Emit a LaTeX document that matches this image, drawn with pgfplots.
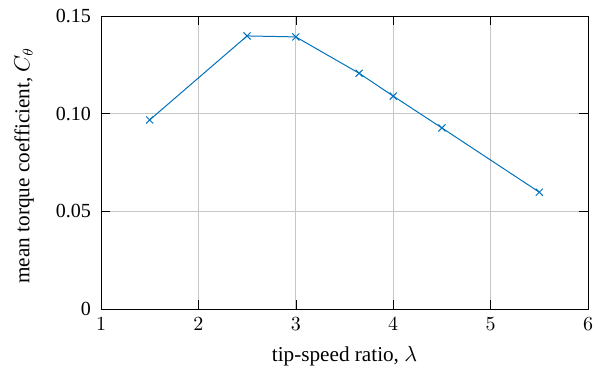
\documentclass[border=0pt]{standalone}
\usepackage{fontspec}
\setmainfont{Liberation Serif}
\usepackage{pgfplots}
\usetikzlibrary{calc}
\pgfplotsset{compat=1.18}
\definecolor{mblue}{rgb}{0,0.447,0.741}
\begin{document}
\begin{tikzpicture}
\begin{axis}[
  name=ax,
  scale only axis,
  width=243.5pt, height=146.5pt,
  xmin=1, xmax=6, ymin=0, ymax=0.15,
  xtick={1,2,3,4,5,6},
  ytick={0,0.05,0.10,0.15},
  yticklabels={0,0.05,0.10,0.15},
  xticklabel style={yshift=-1pt},
  yticklabel style={xshift=-1.5pt},
  grid=major,
  major grid style={gray!45, line width=0.4pt},
  tick style={black},
  xlabel={tip-speed ratio, $\lambda$},
  ylabel={mean torque coefficient, $C_\theta$},
  label style={font=\fontsize{10.6}{13}\selectfont},
  xlabel style={at={(axis description cs:0.5,-0.16)}, anchor=center},
  ylabel style={at={(axis description cs:-0.158,0.49)}, anchor=center},
]
\addplot[color=mblue, line width=0.5pt, mark=x, mark size=2.5pt] coordinates {
(1.5,0.0968) (2.5,0.1398) (3.0,0.1393) (3.65,0.1207) (4.0,0.1090) (4.5,0.0927) (5.5,0.0598)
};
\end{axis}
\pgfresetboundingbox
\useasboundingbox ($(ax.south west)+(-50.5pt,-30.5pt)$) rectangle ($(ax.north east)+(10pt,8pt)$);
\end{tikzpicture}
\end{document}
